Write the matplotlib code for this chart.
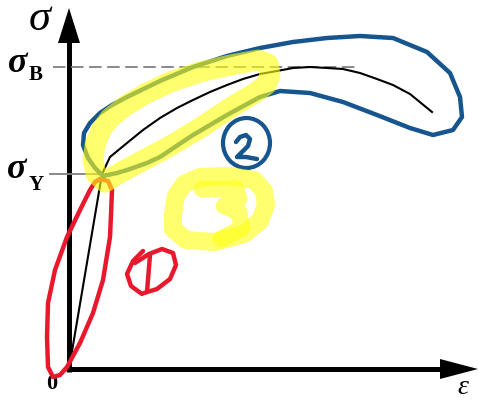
import matplotlib.pyplot as plt
from matplotlib.patches import Ellipse

plt.rcParams['lines.scale_dashes'] = False

# stress-strain curve (arbitrary units)
strain = [0, 33, 41, 58, 74, 91, 108, 124, 141, 158, 174, 191, 208, 224, 241,
          258, 274, 291, 308, 324, 341, 363]
stress = [0, 195, 212, 226, 239, 251, 261, 269, 277, 284, 290, 295, 298, 301, 302,
          301, 300, 296, 290, 284, 275, 257]
sigma_Y = 195
sigma_B = 302
eps_B = 241

# hand-drawn marks over the diagram (same units)
red_loop_x = [31, 39, 43, 42, 41, 34, 24, 11, -2, -9, -16, -21, -22, -21, -14, -2, 11, 21, 26, 31]
red_loop_y = [190, 188, 179, 154, 132, 89, 56, 26, 2, -6, -8, 2, 32, 66, 99, 132, 159, 179, 187, 190]
red_one_arc_x = [74, 64, 58, 62, 73]
red_one_arc_y = [118, 108, 95, 83, 75]
red_one_d_x = [66, 80, 93, 104, 107, 101, 88, 75]
red_one_d_y = [106, 115, 120, 116, 104, 90, 80, 76]
red_one_bar_x = [81, 78]
red_one_bar_y = [114, 77]

blue_loop_x = [34, 26, 19, 14, 15, 21, 31, 43, 58, 91, 124, 158, 191, 224, 258, 291, 324,
               358, 381, 391, 393, 384, 364, 341, 308, 274, 241, 211, 191, 158, 124, 91,
               78, 58, 48, 34]
blue_loop_y = [193, 201, 211, 224, 236, 246, 256, 264, 272, 288, 302, 313, 321, 327, 331,
               333, 331, 317, 296, 272, 252, 239, 234, 241, 254, 267, 276, 278, 272, 254,
               234, 212, 206, 199, 196, 193]
blue_two_x = [167, 171, 177, 181, 179, 172, 168, 177, 188]
blue_two_y = [227, 232, 234, 230, 223, 216, 212, 212, 210]
blue_circle = (177.5, 226)

yellow_band_x = [36, 27, 24, 26, 32, 41, 56, 76, 101, 131, 161, 189, 199, 201, 197, 186,
                 161, 131, 101, 71, 49, 36]
yellow_band_y = [187, 195, 209, 224, 239, 251, 263, 275, 287, 297, 304, 309, 305, 294,
                 284, 276, 261, 241, 223, 207, 195, 187]
yellow_ring_x = [104, 107, 115, 131, 161, 185, 195, 197, 191, 175, 146, 117, 104, 104]
yellow_ring_y = [154, 173, 185, 192, 193, 189, 178, 164, 148, 135, 127, 129, 140, 154]
yellow_three_x = [133, 167, 170, 155, 170, 173, 152]
yellow_three_y = [180, 180, 170, 163, 157, 141, 130]

RED = '#E8192C'
BLUE = '#17558F'
YELLOW = '#FFFF14'

fig = plt.figure(figsize=(4.78, 4.03), dpi=100)
ax = fig.add_axes([0, 0, 1, 1])
ax.set_xlim(-69, 409)
ax.set_ylim(-34, 369)
ax.axis('off')

# axes with arrow heads
ax.plot([0, 0], [-3, 330], color='black', lw=3.6, solid_capstyle='butt')
ax.plot([-3, 375], [0, 0], color='black', lw=3.6, solid_capstyle='butt')
ax.fill([-11, 11, 0], [326, 326, 361], color='black', lw=0)
ax.fill([371, 371, 409], [-10, 10, 0], color='black', lw=0)

# reference levels
ax.plot([-16, eps_B + 45], [sigma_B, sigma_B], color='#808080', lw=1.3, dashes=(9, 4))
ax.plot([-19, 33], [sigma_Y, sigma_Y], color='#808080', lw=1.3)

ax.plot(strain, stress, color='black', lw=1.5, zorder=3)

serif = 'Liberation Serif'
ax.text(-29, 350, 'σ', fontsize=32, family=serif, style='italic', ha='center', va='center')
ax.text(-51, sigma_B + 4, 'σ', fontsize=26, family=serif, style='italic', weight='bold',
        ha='center', va='center')
ax.text(-33, sigma_B - 8, 'B', fontsize=15, family=serif, weight='bold', ha='center', va='center')
ax.text(-52, sigma_Y + 4, 'σ', fontsize=26, family=serif, style='italic', weight='bold',
        ha='center', va='center')
ax.text(-33, sigma_Y - 11, 'Y', fontsize=15, family=serif, weight='bold', ha='center', va='center')
ax.text(-17, -15, '0', fontsize=16, family=serif, weight='bold', ha='center', va='center')
ax.text(394, -19, 'ε', fontsize=20, family=serif, style='italic', ha='center', va='center')

# annotations
pen = dict(solid_joinstyle='round', solid_capstyle='round', zorder=4)
ax.plot(red_loop_x, red_loop_y, color=RED, lw=3.2, **pen)
ax.plot(red_one_arc_x, red_one_arc_y, color=RED, lw=3.2, **pen)
ax.plot(red_one_d_x, red_one_d_y, color=RED, lw=3.2, **pen)
ax.plot(red_one_bar_x, red_one_bar_y, color=RED, lw=3.2, **pen)

ax.plot(blue_loop_x, blue_loop_y, color=BLUE, lw=3.2, **pen)
ax.add_patch(Ellipse(blue_circle, 47, 50, fill=False, edgecolor=BLUE, lw=3, zorder=4))
ax.plot(blue_two_x, blue_two_y, color=BLUE, lw=3.2, **pen)

hl = dict(solid_joinstyle='round', solid_capstyle='round', zorder=5, alpha=0.62)
ax.plot(yellow_band_x, yellow_band_y, color=YELLOW, lw=15, **hl)
ax.plot(yellow_ring_x, yellow_ring_y, color=YELLOW, lw=13, **hl)
ax.plot(yellow_three_x, yellow_three_y, color=YELLOW, lw=12, **hl)

fig.savefig('out.png', dpi=100)
